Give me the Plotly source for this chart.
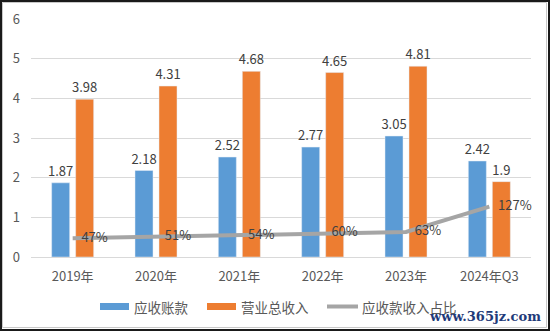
import plotly.graph_objects as go

categories = ["2019年", "2020年", "2021年", "2022年", "2023年", "2024年Q3"]
receivables = [1.87, 2.18, 2.52, 2.77, 3.05, 2.42]
revenue = [3.98, 4.31, 4.68, 4.65, 4.81, 1.9]
ratio = [0.47, 0.51, 0.54, 0.60, 0.63, 1.27]
ratio_labels = ["47%", "51%", "54%", "60%", "63%", "127%"]
series_names = ["应收账款", "营业总收入", "应收款收入占比"]
colors = ["#5B9BD5", "#ED7D31", "#A5A5A5"]

W, H = 550, 331
L, R, T, B = 31, 19, 19, 74
pw, ph = W - L - R, H - T - B

def px(x):
    return (x - L) / pw

def py(y):
    return (H - B - y) / ph

font_fam = "Microsoft YaHei, Noto Sans CJK SC, DejaVu Sans, sans-serif"
lab_font = dict(size=13, color="#404040")

fig = go.Figure()
fig.add_trace(go.Bar(
    x=categories, y=receivables, name=series_names[0],
    marker=dict(color=colors[0]),
    text=[f"{v:g}" for v in receivables], textposition="outside",
    textfont=lab_font, cliponaxis=False, constraintext="none",
))
fig.add_trace(go.Bar(
    x=categories, y=revenue, name=series_names[1],
    marker=dict(color=colors[1]),
    text=[f"{v:g}" for v in revenue], textposition="outside",
    textfont=lab_font, cliponaxis=False, constraintext="none",
))
fig.add_trace(go.Scatter(
    x=categories, y=ratio, name=series_names[2],
    mode="lines+text", line=dict(color=colors[2], width=4),
    text=["   " + t for t in ratio_labels], textposition="middle right",
    textfont=lab_font, cliponaxis=False,
))

shapes = [
    dict(type="rect", xref="paper", yref="paper",
         x0=px(1), x1=px(549), y0=py(330), y1=py(1),
         line=dict(color="#1a1a1a", width=2), layer="above"),
    dict(type="rect", xref="paper", yref="paper",
         x0=px(2.5), x1=px(546.5), y0=py(327.5), y1=py(2.5),
         line=dict(color="#C8C8C8", width=1), layer="above"),
]
annotations = []
# custom legend
leg = [(100, 129, 132), (207, 236, 239), (327, 358, 360)]
for i, (a, b, t) in enumerate(leg):
    if i < 2:
        shapes.append(dict(type="rect", xref="paper", yref="paper",
                           x0=px(a), x1=px(b), y0=py(310), y1=py(303),
                           fillcolor=colors[i], line=dict(width=0)))
    else:
        shapes.append(dict(type="line", xref="paper", yref="paper",
                           x0=px(a), x1=px(b), y0=py(306.5), y1=py(306.5),
                           line=dict(color=colors[i], width=4)))
    annotations.append(dict(text=series_names[i], xref="paper", yref="paper",
                            x=px(t), y=py(306.5), xanchor="left", yanchor="middle",
                            showarrow=False,
                            font=dict(size=13.5, color="#595959")))

annotations.append(dict(text="<b>www.365jz.com</b>", xref="paper", yref="paper",
                        x=px(543), y=py(316), xanchor="right", yanchor="middle",
                        showarrow=False,
                        font=dict(family="DejaVu Serif, serif", size=13, color="#1F3B7A")))

fig.update_layout(
    width=W, height=H,
    margin=dict(l=L, r=R, t=T, b=B, autoexpand=False),
    paper_bgcolor="white", plot_bgcolor="white",
    barmode="group", bargap=0.424, bargroupgap=0.25,
    font=dict(family=font_fam, size=12, color="#595959"),
    xaxis=dict(showgrid=False, showline=False, ticks="",
               tickfont=dict(size=13, color="#595959"), ticklabelstandoff=10,
               fixedrange=True),
    yaxis=dict(range=[0, 6], dtick=1, showgrid=True, gridcolor="#D9D9D9",
               gridwidth=1, zeroline=True, zerolinecolor="#D9D9D9", zerolinewidth=1,
               showline=False, ticks="", tickfont=dict(size=13, color="#595959"),
               ticklabelstandoff=10),
    showlegend=False,
    shapes=shapes,
    annotations=annotations,
)

fig.write_html("out.html")
